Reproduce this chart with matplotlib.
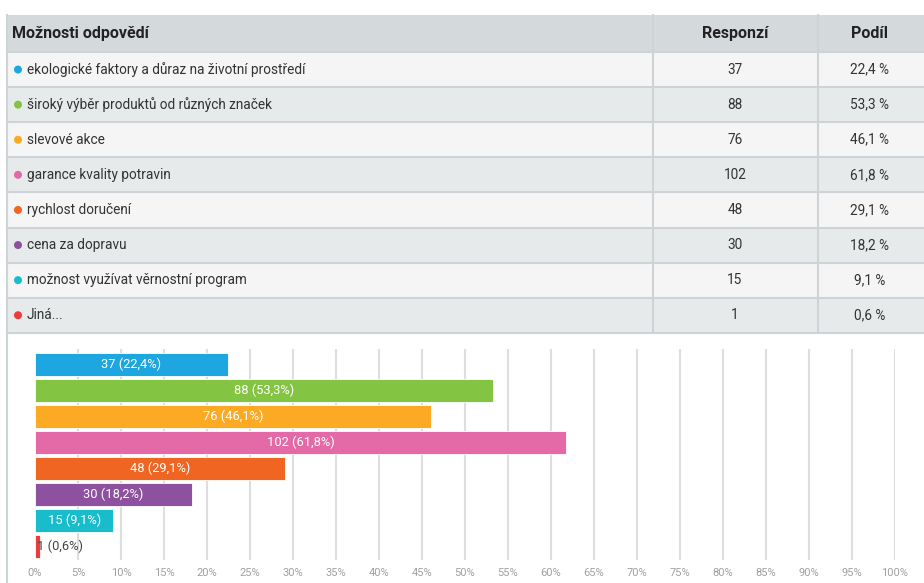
import matplotlib
matplotlib.use("Agg")
import matplotlib.pyplot as plt
from matplotlib.patches import Rectangle, Circle

plt.rcParams['font.family'] = ['Roboto', 'DejaVu Sans']

# data
moznosti = ["ekologické faktory a důraz na životní prostředí",
            "široký výběr produktů od různých značek",
            "slevové akce",
            "garance kvality potravin",
            "rychlost doručení",
            "cena za dopravu",
            "možnost využívat věrnostní program",
            "Jiná..."]
responzi = [37, 88, 76, 102, 48, 30, 15, 1]
podil = [22.4, 53.3, 46.1, 61.8, 29.1, 18.2, 9.1, 0.6]
barvy = ["#1ea6e0", "#84c443", "#fcaa24", "#e46aa7", "#f16522",
         "#8d51a0", "#19bccb", "#ee3a3a"]
ticks = list(range(0, 101, 5))

W, H = 924, 583
fig = plt.figure(figsize=(W / 100, H / 100), dpi=100)

# table drawn in pixel coordinates
tab = fig.add_axes([0, 0, 1, 1])
tab.set_xlim(0, W)
tab.set_ylim(H, 0)
tab.axis("off")

x0 = 7
col1 = 653
col2 = 818
top = 15
head_h = 37
row_h = 35.1
line_c = "#cdd3d6"
fs = 9.8
hfs = 11.5

tab.add_patch(Rectangle((x0, top), W - x0, head_h, fc="#d4d9dc", ec="none"))
tab.text(12, top + head_h / 2, "Možnosti odpovědí", fontsize=hfs, fontweight="bold",
         va="center", ha="left", color="#222222")
tab.text(735, top + head_h / 2, "Responzí", fontsize=hfs, fontweight="bold",
         va="center", ha="center", color="#222222")
tab.text(870, top + head_h / 2, "Podíl", fontsize=hfs, fontweight="bold",
         va="center", ha="center", color="#222222")

for i, name in enumerate(moznosti):
    y = top + head_h + i * row_h
    bg = "#f5f5f5" if i % 2 == 0 else "#e7eaeb"
    tab.add_patch(Rectangle((x0, y), W - x0, row_h, fc=bg, ec="none"))
    tab.plot([x0, W], [y, y], color=line_c, lw=1.5)
    tab.add_patch(Circle((18, y + row_h / 2), 4, fc=barvy[i], ec="none"))
    tab.text(27, y + row_h / 2, name, fontsize=fs, va="center", ha="left",
             color="#333333")
    tab.text(735, y + row_h / 2, str(responzi[i]), fontsize=fs, va="center",
             ha="center", color="#333333")
    tab.text(870, y + row_h / 2, f"{podil[i]:.1f} %".replace(".", ","),
             fontsize=fs, va="center", ha="center", color="#333333")

bottom = top + head_h + len(moznosti) * row_h
tab.plot([x0, W], [bottom, bottom], color=line_c, lw=1.5)
tab.plot([col1, col1], [top, bottom], color=line_c, lw=1.5)
tab.plot([col2, col2], [top, bottom], color=line_c, lw=1.5)
tab.plot([x0, x0], [top, H], color=line_c, lw=1.5)

# bar chart
ax = fig.add_axes([35 / W, 1 - 560 / H, 860 / W, 211 / H])
pos = list(range(len(moznosti)))
ax.barh(pos, podil, height=0.88, color=barvy, edgecolor="white", linewidth=0.6,
        zorder=3)
for i in pos:
    lab = f"{responzi[i]} ({podil[i]:.1f}%)".replace(".", ",")
    if podil[i] > 5:
        ax.text(podil[i] / 2, i, lab, ha="center", va="center", fontsize=9.3,
                color="white", zorder=4)
    else:
        ax.text(0.2, i, lab, ha="left", va="center", fontsize=9.3,
                color="#444444", zorder=4)
ax.set_xlim(0, 100)
ax.set_ylim(7.52, -0.6)
ax.set_xticks(ticks)
ax.set_xticklabels([f"{t}%" for t in ticks], fontsize=8, color="#a0a0a0")
ax.set_yticks([])
ax.tick_params(axis="x", length=0, pad=6)
for t in ticks[1:]:
    ax.axvline(t, color="#dedede", lw=1.5, zorder=1)
for s in ax.spines.values():
    s.set_visible(False)
ax.set_facecolor("none")

fig.savefig("out.png", dpi=100)
